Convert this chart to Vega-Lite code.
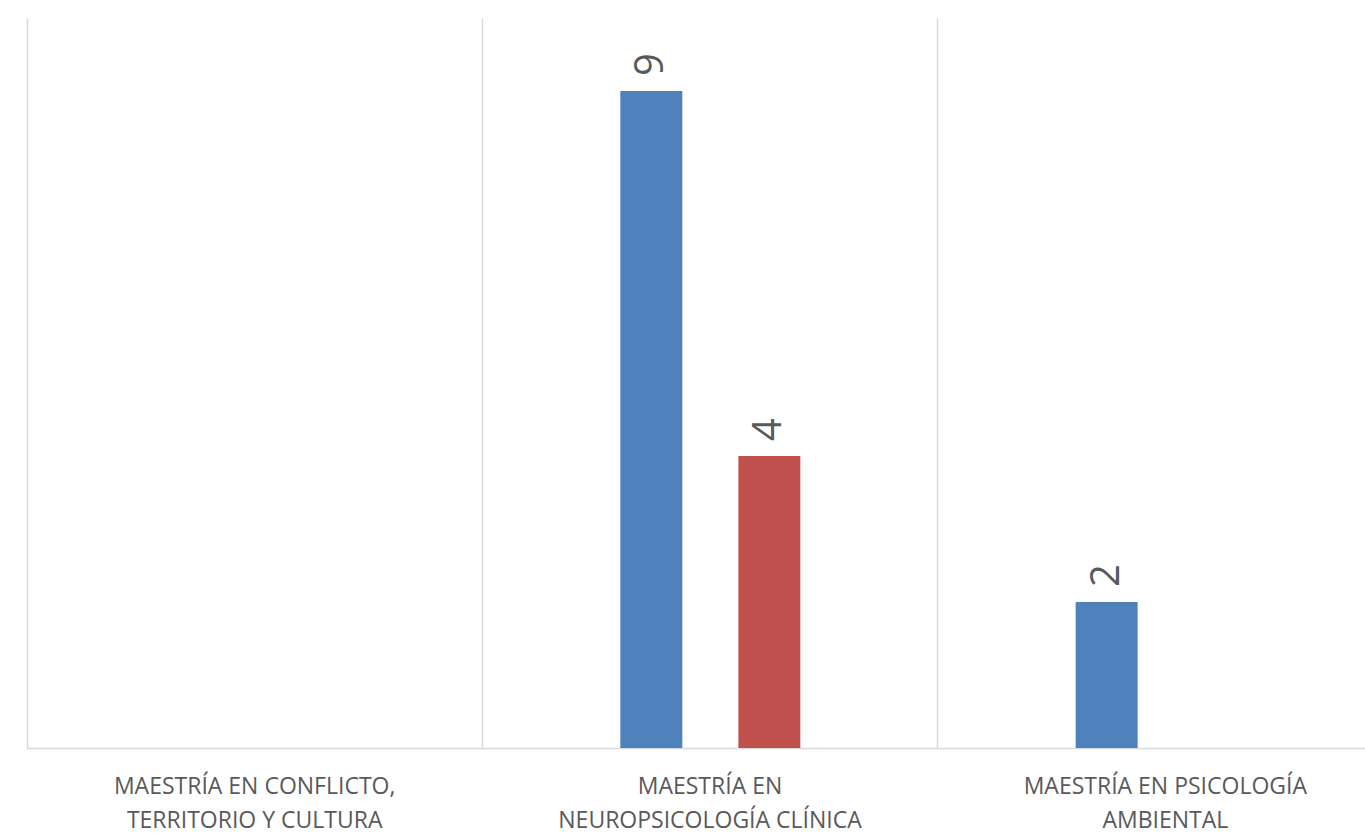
{
  "$schema": "https://vega.github.io/schema/vega-lite/v6.json",
  "width": 1338,
  "height": 730,
  "autosize": {"type": "none"},
  "padding": {"left": 27, "top": 18, "right": 0, "bottom": 86},
  "background": "white",
  "config": {"view": {"stroke": null}},
  "data": {
    "values": [
      {"programa": "MAESTRÍA EN NEUROPSICOLOGÍA CLÍNICA", "serie": "Serie 1", "valor": 9},
      {"programa": "MAESTRÍA EN NEUROPSICOLOGÍA CLÍNICA", "serie": "Serie 2", "valor": 4},
      {"programa": "MAESTRÍA EN PSICOLOGÍA AMBIENTAL", "serie": "Serie 1", "valor": 2}
    ]
  },
  "resolve": {"axis": {"x": "independent"}},
  "layer": [
    {
      "mark": {"type": "bar"},
      "encoding": {
        "x": {
          "field": "programa",
          "type": "nominal",
          "sort": null,
          "scale": {
            "domain": ["MAESTRÍA EN CONFLICTO, TERRITORIO Y CULTURA", "MAESTRÍA EN NEUROPSICOLOGÍA CLÍNICA", "MAESTRÍA EN PSICOLOGÍA AMBIENTAL"],
            "range": [0, 1366],
            "paddingInner": 0,
            "paddingOuter": 0
          },
          "axis": {
            "title": null,
            "ticks": false,
            "grid": false,
            "domain": true,
            "domainColor": "#d9d9d9",
            "domainWidth": 1.5,
            "labelAngle": 0,
            "labelFont": "Open Sans",
            "labelFontSize": 23,
            "labelColor": "#595959",
            "labelBaseline": "top",
            "labelPadding": 27,
            "labelLineHeight": 34,
            "labelLimit": 0,
            "labelOverlap": false,
            "labelBound": false,
            "labelExpr": "datum.value == 'MAESTRÍA EN CONFLICTO, TERRITORIO Y CULTURA' ? ['MAESTRÍA EN CONFLICTO,', 'TERRITORIO Y CULTURA'] : datum.value == 'MAESTRÍA EN NEUROPSICOLOGÍA CLÍNICA' ? ['MAESTRÍA EN', 'NEUROPSICOLOGÍA CLÍNICA'] : ['MAESTRÍA EN PSICOLOGÍA', 'AMBIENTAL']"
          }
        },
        "xOffset": {
          "field": "serie",
          "type": "nominal",
          "scale": {"domain": ["Serie 1", "Serie 2"], "range": [138, 318], "paddingInner": 0.475, "paddingOuter": 0}
        },
        "y": {"field": "valor", "type": "quantitative", "scale": {"domain": [0, 10]}, "axis": null},
        "color": {
          "field": "serie",
          "type": "nominal",
          "scale": {"domain": ["Serie 1", "Serie 2"], "range": ["#4F81BD", "#C0504D"]},
          "legend": null
        }
      }
    },
    {
      "mark": {
        "type": "text",
        "angle": 270,
        "align": "left",
        "baseline": "middle",
        "dx": 15,
        "font": "Open Sans",
        "fontSize": 40,
        "color": "#595959"
      },
      "encoding": {
        "x": {
          "field": "programa",
          "type": "nominal",
          "sort": null,
          "axis": {
            "title": null,
            "bandPosition": 0,
            "grid": true,
            "gridColor": "#d9d9d9",
            "gridWidth": 1.5,
            "ticks": false,
            "labels": false,
            "domain": false
          }
        },
        "xOffset": {"field": "serie", "type": "nominal"},
        "y": {"field": "valor", "type": "quantitative"},
        "text": {"field": "valor", "type": "quantitative"}
      }
    }
  ]
}
